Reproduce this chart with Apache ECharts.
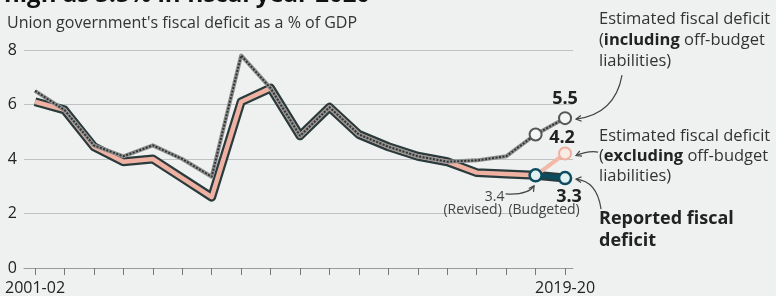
<!DOCTYPE html>
<html>
<head>
<meta charset="utf-8">
<script src="https://cdn.jsdelivr.net/npm/echarts@6.0.0/dist/echarts.min.js"></script>
<style>
html, body { margin: 0; padding: 0; background: #eef1f0; }
#main { width: 776px; height: 296px; }
</style>
</head>
<body>
<div id="main"></div>
<script>
// fiscal years on the x axis
var years = ['2001-02', '2002-03', '2003-04', '2004-05', '2005-06', '2006-07', '2007-08',
  '2008-09', '2009-10', '2010-11', '2011-12', '2012-13', '2013-14', '2014-15',
  '2015-16', '2016-17', '2017-18', '2018-19', '2019-20'];
// reported fiscal deficit, % of GDP (last two: revised, budgeted)
var reported = [6.1, 5.8, 4.45, 3.9, 4.0, 3.3, 2.6, 6.1, 6.6, 4.85, 5.9, 4.9, 4.45, 4.1, 3.9, 3.5, 3.45, 3.4, 3.3];
// estimated, including off-budget liabilities
var including = [6.5, 5.8, 4.5, 4.1, 4.5, 4.0, 3.35, 7.8, 6.6, 4.85, 5.9, 4.9, 4.45, 4.1, 3.9, 3.95, 4.1, 4.9, 5.5];
// estimated, excluding off-budget liabilities
var excluding = [null, null, null, null, null, null, null, null, null, null, null, null, null, null, null, null, null, 3.4, 4.2];
var yTicks = [0, 2, 4, 6, 8];

var FONT = 'Open Sans';
var last = years.length - 1;
var revised = last - 1;

function pairs(arr, from, to) {
  var out = [];
  for (var i = from; i <= to; i++) {
    if (arr[i] != null) out.push([i, arr[i]]);
  }
  return out;
}
function endLabel(pos, dist, off) {
  return {
    show: true, position: pos, distance: dist, offset: off,
    fontFamily: FONT, fontSize: 18, fontWeight: 'bold', color: '#222',
    formatter: function (p) { return p.value[0] === last ? String(p.value[1]) : ''; }
  };
}
function endSymbol(v) { return v[0] >= revised ? 'circle' : 'none'; }

var chart = echarts.init(document.getElementById('main'));
chart.setOption({
  animation: false,
  backgroundColor: '#eef1f0',
  grid: { left: 24, right: 203, top: 50, bottom: 26 },
  xAxis: {
    type: 'value', min: -0.374, max: 18.27,
    splitLine: { show: false },
    axisLine: { show: true, onZero: false, lineStyle: { color: '#9a9a9a' } },
    axisTick: { show: true, length: 7, lineStyle: { color: '#777' },
      customValues: years.map(function (y, i) { return i; }) },
    axisLabel: { customValues: [0, last], margin: 12, fontFamily: FONT, fontSize: 16, color: '#222',
      formatter: function (v) { return years[Math.round(v)]; } }
  },
  yAxis: {
    type: 'value', min: yTicks[0], max: yTicks[yTicks.length - 1], interval: 2,
    axisLine: { show: false }, axisTick: { show: false },
    axisLabel: { margin: 7, fontFamily: FONT, fontSize: 16, color: '#222' },
    splitLine: { lineStyle: { color: '#bfc2c2' } }
  },
  series: [
    { // dark outline of the reported line
      type: 'line', z: 2, data: pairs(reported, 0, last), symbol: 'none',
      lineStyle: { color: '#2a3b3d', width: 9, join: 'round' }
    },
    { // salmon core
      type: 'line', z: 3, data: pairs(reported, 0, revised), symbol: 'none',
      lineStyle: { color: '#efb2a2', width: 4.5, join: 'round' }
    },
    { // gray band under the dotted estimate
      type: 'line', z: 4, data: pairs(including, 0, last), symbol: 'none',
      lineStyle: { color: '#8e9191', width: 4, join: 'round' }
    },
    { // excluding off-budget
      type: 'line', z: 5, data: pairs(excluding, 0, last),
      symbol: function (v) { return v[0] === last ? 'circle' : 'none'; }, symbolSize: 12,
      lineStyle: { color: '#f3b8a8', width: 4 },
      itemStyle: { color: '#fbebe5', borderColor: '#f0b09e', borderWidth: 2 },
      label: endLabel('top', 0, [-3, 0])
    },
    { // including off-budget, dotted
      type: 'line', z: 6, data: pairs(including, 0, last),
      symbol: endSymbol, symbolSize: 12,
      lineStyle: { color: '#333', width: 2, type: [2, 1.5] },
      itemStyle: { color: '#f4f5f5', borderColor: '#555', borderWidth: 2 },
      label: endLabel('top', 3, [0, 0])
    },
    { // revised -> budgeted reported segment
      type: 'line', z: 7, data: pairs(reported, revised, last),
      symbol: 'circle', symbolSize: 12,
      lineStyle: { color: '#0d4b5f', width: 5 },
      itemStyle: { color: '#dff1f1', borderColor: '#0d4b5f', borderWidth: 2.5 },
      label: endLabel('bottom', 3, [4, 0])
    }
  ]
});

function pt(i, v) { return chart.convertToPixel({ gridIndex: 0 }, [i, v]); }
function arrow(t, c, h) {
  var ang = Math.atan2(h[1] - c[1], h[0] - c[0]);
  var s = 6;
  var a = [h[0] - s * Math.cos(ang - 0.5), h[1] - s * Math.sin(ang - 0.5)];
  var b = [h[0] - s * Math.cos(ang + 0.5), h[1] - s * Math.sin(ang + 0.5)];
  var st = { stroke: '#444', lineWidth: 1.2, fill: null };
  return [
    { type: 'bezierCurve', z: 10, shape: { x1: t[0], y1: t[1], cpx1: c[0], cpy1: c[1], x2: h[0], y2: h[1] }, style: st },
    { type: 'polyline', z: 10, shape: { points: [a, h, b] }, style: st }
  ];
}
function rel(p, dx, dy) { return [p[0] + dx, p[1] + dy]; }
function txt(x, y, text, opt) {
  var s = { text: text, fontFamily: FONT, fontSize: 16, fill: '#333', align: 'left', verticalAlign: 'top' };
  for (var k in opt) s[k] = opt[k];
  return { type: 'text', z: 10, x: x, y: y, style: s };
}

var pInc = pt(last, including[last]);
var pExc = pt(last, excluding[last]);
var pBud = pt(last, reported[last]);
var pRev = pt(revised, reported[revised]);

var g = [];
g.push(txt(4, -17, 'high as 5.5% in fiscal year 2020', { fontSize: 24, fontWeight: 'bold', fill: '#111' }));
g.push(txt(7, 15, 'Union government\'s fiscal deficit as a % of GDP', { fill: '#333' }));
g.push(txt(599, 9, 'Estimated fiscal deficit\n({b|including} off-budget\nliabilities)',
  { fontSize: 16.5, lineHeight: 21, rich: { b: { fontWeight: 'bold', fontFamily: FONT, fontSize: 16.5, fill: '#222' } } }));
g.push(txt(599, 126.5, 'Estimated fiscal deficit\n({b|excluding} off-budget\nliabilities)',
  { fontSize: 16.5, lineHeight: 20, rich: { b: { fontWeight: 'bold', fontFamily: FONT, fontSize: 16.5, fill: '#222' } } }));
g.push(txt(599, 208, 'Reported fiscal\ndeficit', { fontSize: 18, fontWeight: 'bold', lineHeight: 22, fill: '#222' }));

var r34 = rel(pRev, -41, 21.5);
g.push(txt(r34[0], r34[1], String(reported[revised]), { fontSize: 14, fill: '#444', align: 'center', verticalAlign: 'middle' }));
var rRv = rel(pRev, -63, 34.5);
g.push(txt(rRv[0], rRv[1], '(Revised)', { fontSize: 14, fill: '#444', align: 'center', verticalAlign: 'middle' }));
var rBd = rel(pBud, -21, 32);
g.push(txt(rBd[0], rBd[1], '(Budgeted)', { fontSize: 14, fill: '#444', align: 'center', verticalAlign: 'middle' }));

g = g.concat(arrow(rel(pInc, 57, -43), rel(pInc, 50, -4), rel(pInc, 11, 1)));
g = g.concat(arrow(rel(pExc, 33, -1.5), rel(pExc, 23, -3), rel(pExc, 11, 2)));
g = g.concat(arrow(rel(pBud, 36, 31), rel(pBud, 32, 3), rel(pBud, 11, 1)));
g = g.concat(arrow(rel(pRev, -30, 18.5), rel(pRev, -8, 20), rel(pRev, -1.5, 10.5)));

chart.setOption({ graphic: g });
</script>
</body>
</html>
